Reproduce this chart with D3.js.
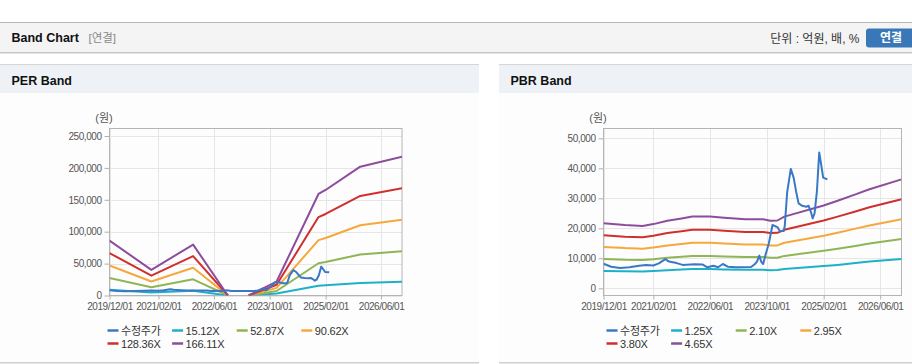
<!DOCTYPE html>
<html>
<head>
<meta charset="utf-8">
<script src="https://cdn.jsdelivr.net/npm/d3@7"></script>
<style>
body { margin: 0; background: #fff; }
svg text { font-family: 'Liberation Sans', Arial, 'Noto Sans CJK KR', sans-serif; }
</style>
</head>
<body>
<svg id="chart" width="912" height="364"></svg>
<script>
// ---- data ----
const priceDates = ['2019-12-01','2020-02-05','2020-04-20','2020-07-10','2020-10-01','2020-12-01','2021-02-01','2021-03-20',
    '2021-05-15','2021-06-15','2021-08-20','2021-10-10','2022-01-20','2022-04-01','2022-05-10','2022-07-01','2022-08-10',
    '2022-09-20','2022-11-01','2023-01-10','2023-05-20','2023-06-20','2023-07-10','2023-07-30','2023-08-15','2023-09-01',
    '2023-09-20','2023-10-20','2023-11-20','2024-01-01','2024-01-20','2024-02-25','2024-03-05','2024-03-25','2024-04-25',
    '2024-05-20','2024-06-10','2024-07-01','2024-08-01','2024-09-05','2024-09-25','2024-10-15','2024-10-30','2024-11-15',
    '2024-12-05','2024-12-25','2025-01-10','2025-01-28','2025-03-05'];
const priceValues = [8200,7200,6800,7000,7500,7800,7600,8300,
    9700,8900,8400,7800,8000,7900,7000,7500,7000,
    8100,7200,7000,7100,8000,8900,10900,8900,8100,
    11000,15000,21100,20400,19200,19100,21000,32000,39800,
    36800,32200,28300,27500,27200,27500,25400,23300,25000,
    32200,45300,41500,36900,36300];

const perDates = ['2019-12-01','2020-12-01','2021-12-01','2022-10-01','2023-01-01','2023-04-01','2023-12-01','2024-12-01','2025-02-01','2025-12-01','2026-12-01'];
const per15  = [9000, 4700, 7400, 0, null, 0, 3000, 15200, 16000, 19400, 21500];
const per52  = [27400, 12800, 25400, 0, null, 0, 7000, 50600, 52600, 64300, 69200];
const per90  = [47000, 21900, 43500, 0, null, 0, 11900, 86800, 90200, 110100, 118600];
const per128 = [66500, 31100, 61700, 0, null, 0, 16900, 122900, 127800, 156000, 168100];
const per166 = [86100, 40200, 79800, 0, null, 0, 21900, 159100, 165400, 201900, 217500];

const pbrDates = ['2019-12-01','2020-06-01','2020-11-01','2021-02-01','2021-06-01','2021-10-01','2022-01-01','2022-06-01','2022-10-01',
    '2023-04-01','2023-09-01','2023-11-01','2024-01-01','2024-03-01','2025-02-01','2025-06-01','2025-11-01','2026-03-01','2026-12-01'];
const pbr125 = [5800,5700,5600,5800,6000,6300,6400,6400,6300,6200,6200,6000,6100,6400,7400,7800,8400,8900,9800];
const pbr210 = [9800,9500,9400,9700,10200,10500,10800,10800,10600,10400,10400,10200,10200,10800,12500,13200,14100,14900,16400];
const pbr295 = [13800,13400,13200,13600,14300,14800,15200,15200,14900,14600,14600,14300,14300,15200,17500,18500,19900,20900,23000];
const pbr380 = [17700,17200,17000,17500,18400,19000,19500,19500,19200,18800,18800,18400,18500,19500,22600,23900,25600,27000,29700];
const pbr465 = [21700,21100,20800,21400,22500,23300,23900,23900,23500,23000,23000,22500,22600,23900,27600,29200,31300,33000,36300];

const xTickLabels = ['2019/12/01','2021/02/01','2022/06/01','2023/10/01','2025/02/01','2026/06/01'];
const xDomain = ['2019/12/01', '2026/12/01'];
const perYTicks = [0, 50000, 100000, 150000, 200000, 250000];
const pbrYTicks = [0, 10000, 20000, 30000, 40000, 50000];
const perNames = ['수정주가', '15.12X', '52.87X', '90.62X', '128.36X', '166.11X'];
const pbrNames = ['수정주가', '1.25X', '2.10X', '2.95X', '3.80X', '4.65X'];
const COLORS = ['#3a78c6', '#1db0c8', '#8fb555', '#f6a83c', '#d02f2d', '#8c4d9d'];

const parseDay = d3.timeParse('%Y-%m-%d');
const parseTick = d3.timeParse('%Y/%m/%d');

const svg = d3.select('#chart');

// ---- page header ----
svg.append('rect').attr('x', 0).attr('y', 22).attr('width', 912).attr('height', 31).attr('fill', '#f4f4f4');
svg.append('rect').attr('x', 0).attr('y', 22).attr('width', 912).attr('height', 1).attr('fill', '#b8b8b8');
svg.append('rect').attr('x', 0).attr('y', 52).attr('width', 912).attr('height', 1).attr('fill', '#c6c6c6');
svg.append('rect').attr('x', 0).attr('y', 53).attr('width', 912).attr('height', 1).attr('fill', '#e4e4e4');

svg.append('text').attr('x', 11.5).attr('y', 42).text('Band Chart')
    .style('font-size', '12.5px').style('font-weight', 'bold').attr('fill', '#111');
svg.append('text').attr('x', 88.5).attr('y', 42).text('[연결]')
    .style('font-size', '11.5px').attr('fill', '#888');
svg.append('text').attr('x', 859.5).attr('y', 42.5).attr('text-anchor', 'end').text('단위 : 억원, 배, %')
    .style('font-size', '12px').attr('fill', '#333');
svg.append('rect').attr('x', 866).attr('y', 28.5).attr('width', 52).attr('height', 19).attr('rx', 3)
    .attr('fill', '#3a77b8');
svg.append('text').attr('x', 891).attr('y', 42).attr('text-anchor', 'middle').text('연결')
    .style('font-size', '12px').style('font-weight', 'bold').attr('fill', '#fff');

// ---- band charts ----
function drawPanel(px, pw, title)
{
    svg.append('rect').attr('x', px).attr('y', 64).attr('width', pw).attr('height', 1).attr('fill', '#d6d6d6');
    svg.append('rect').attr('x', px).attr('y', 65).attr('width', pw).attr('height', 28).attr('fill', '#eef2f7');
    svg.append('rect').attr('x', px).attr('y', 93).attr('width', pw).attr('height', 269).attr('fill', '#fdfdfd');
    svg.append('rect').attr('x', px).attr('y', 362).attr('width', pw).attr('height', 1.5).attr('fill', '#d0d0d0');
    svg.append('text').attr('x', px + 11.5).attr('y', 84.5).text(title)
        .style('font-size', '12.5px').style('font-weight', 'bold').attr('fill', '#111');
}

function drawBand(cfg)
{
    const x = d3.scaleTime().domain(xDomain.map(parseTick)).range([cfg.left, cfg.right]);
    const y = d3.scaleLinear().domain(cfg.yDomain).range(cfg.yRange);
    const top = 128.5, bottom = 295.5;
    const g = svg.append('g');

    const clipId = 'clip-' + cfg.id;
    g.append('clipPath').attr('id', clipId)
        .append('rect').attr('x', cfg.left).attr('y', top).attr('width', cfg.right - cfg.left).attr('height', bottom - top);

    // grid
    g.selectAll('.hgrid').data(cfg.yTicks).enter().append('line')
        .attr('x1', cfg.left).attr('x2', cfg.right)
        .attr('y1', d => Math.round(y(d)) + 0.5).attr('y2', d => Math.round(y(d)) + 0.5)
        .attr('stroke', '#e6e6e6');
    g.selectAll('.vgrid').data(xTickLabels.map(parseTick)).enter().append('line')
        .attr('x1', d => Math.round(x(d)) + 0.5).attr('x2', d => Math.round(x(d)) + 0.5)
        .attr('y1', top).attr('y2', bottom)
        .attr('stroke', '#e6e6e6');

    // axes
    const yAxis = g.append('g')
        .attr('transform', `translate(${cfg.left}, 0)`)
        .call(d3.axisLeft(y).tickValues(cfg.yTicks).tickSize(5).tickPadding(3).tickFormat(d3.format(',')));
    const xAxis = g.append('g')
        .attr('transform', `translate(0, ${bottom})`)
        .call(d3.axisBottom(x).tickValues(xTickLabels.map(parseTick)).tickSize(4).tickPadding(3.5)
            .tickFormat(d3.timeFormat('%Y/%m/%d')));
    [yAxis, xAxis].forEach(a => {
        a.select('.domain').remove();
        a.selectAll('.tick line').attr('stroke', '#b0b0b0');
        a.selectAll('.tick text').attr('fill', '#555')
            .style('font-size', '10px').style('letter-spacing', '-0.45px')
            .style('font-family', "'Liberation Sans', Arial, sans-serif");
    });

    // frame
    g.append('rect').attr('x', cfg.left).attr('y', top).attr('width', cfg.right - cfg.left).attr('height', bottom - top)
        .attr('fill', 'none').attr('stroke', '#b4b4b4');

    g.append('text').attr('x', cfg.left - 5.5).attr('y', 121.5).attr('text-anchor', 'middle').text('(원)')
        .style('font-size', '11px').attr('fill', '#555');

    const line = d3.line()
        .defined(d => d.v != null)
        .x(d => x(d.date))
        .y(d => y(d.v));

    const plot = g.append('g').attr('clip-path', `url(#${clipId})`);
    cfg.bands.forEach((vals, i) => {
        const pts = cfg.bandDates.map((d, j) => ({date: parseDay(d), v: vals[j]}));
        plot.append('path').datum(pts)
            .attr('d', line)
            .attr('fill', 'none')
            .attr('stroke', COLORS[i + 1])
            .attr('stroke-width', 2)
            .attr('stroke-linejoin', 'round');
    });
    const pricePts = priceDates.map((d, j) => ({date: parseDay(d), v: priceValues[j]}));
    plot.append('path').datum(pricePts)
        .attr('d', line)
        .attr('fill', 'none')
        .attr('stroke', COLORS[0])
        .attr('stroke-width', 2)
        .attr('stroke-linejoin', 'round');

    // legend
    const legend = g.selectAll('.legend').data(cfg.names).enter().append('g')
        .attr('transform', (d, i) => `translate(${cfg.legendX + (i % 4) * 64.6}, ${i < 4 ? 330.5 : 343.5})`);
    legend.append('line')
        .attr('x1', 0).attr('x2', 11).attr('y1', 0).attr('y2', 0)
        .attr('stroke', (d, i) => COLORS[i]).attr('stroke-width', 2.5);
    legend.append('text')
        .attr('x', 13.5).attr('y', 4)
        .text(d => d)
        .style('font-size', '11px').style('letter-spacing', '-0.2px')
        .attr('fill', '#333');
}

drawPanel(0, 479, 'PER Band');
drawPanel(499, 413, 'PBR Band');

drawBand({
    id: 'per', left: 109.5, right: 402,
    yDomain: [0, 250000], yRange: [295.5, 136], yTicks: perYTicks,
    bandDates: perDates, bands: [per15, per52, per90, per128, per166],
    names: perNames, legendX: 107.5
});

drawBand({
    id: 'pbr', left: 603.5, right: 901.5,
    yDomain: [0, 50000], yRange: [288.3, 138.3], yTicks: pbrYTicks,
    bandDates: pbrDates, bands: [pbr125, pbr210, pbr295, pbr380, pbr465],
    names: pbrNames, legendX: 606.5
});
</script>
</body>
</html>
